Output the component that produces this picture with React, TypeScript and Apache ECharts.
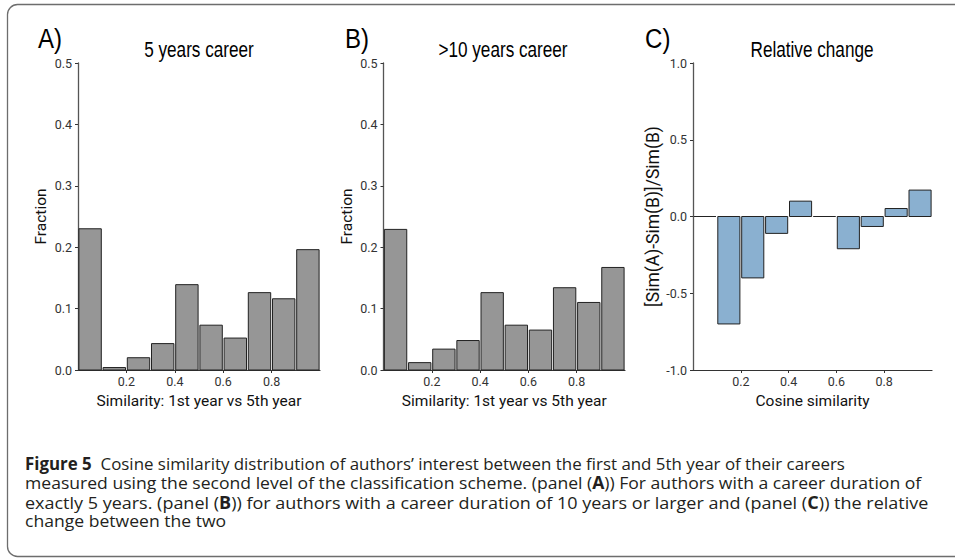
import React, { useEffect, useRef } from 'react';
import * as echarts from 'echarts';

const binEdges = [0, 0.1, 0.2, 0.3, 0.4, 0.5, 0.6, 0.7, 0.8, 0.9, 1.0];
const fractionA = [0.230, 0.004, 0.020, 0.043, 0.139, 0.073, 0.052, 0.126, 0.116, 0.196];
const fractionB = [0.229, 0.012, 0.034, 0.048, 0.126, 0.073, 0.065, 0.134, 0.110, 0.167];
const relChange = [0.0, -0.70, -0.40, -0.11, 0.10, 0.0, -0.21, -0.065, 0.052, 0.172];
const xTickValues = [0.2, 0.4, 0.6, 0.8];
const panelLabels = ['A)', 'B)', 'C)'];
const panelTitles = ['5 years career', '>10 years career', 'Relative change'];
const xAxisNames = ['Similarity: 1st year vs 5th year', 'Similarity: 1st year vs 5th year', 'Cosine similarity'];
const yAxisNames = ['Fraction', 'Fraction', '[Sim(A)-Sim(B)]/Sim(B)'];
const captionLines = [
  '{b|Figure 5}  Cosine similarity distribution of authors\u2019 interest between the first and 5th year of their careers',
  'measured using the second level of the classification scheme. (panel ({b|A})) For authors with a career duration of',
  'exactly 5 years. (panel ({b|B})) for authors with a career duration of 10 years or larger and (panel ({b|C})) the relative',
  'change between the two',
];

const AX_FONT = "Roboto, 'Liberation Sans', sans-serif";
const TITLE_FONT = "'Liberation Sans', Arial, sans-serif";
const CAP_FONT = "'Open Sans', 'Noto Sans', sans-serif";

const grids = [
  { left: 78, top: 63, width: 242, height: 307 },
  { left: 383.5, top: 63, width: 241.5, height: 307 },
  { left: 693, top: 63, width: 239, height: 307 },
];
const panelX = [38, 345, 645];
const titleX = [199, 503, 812];
const yNameGaps = [29, 29, 31];
const yNameSizes = [15.5, 15.5, 17.5];
const captionYs = [463, 482.5, 502, 521];
const captionScaleX = [1.0, 1.04, 1.065, 1.04];

export default function App() {
  const ref = useRef<HTMLDivElement>(null);
  useEffect(() => {
    document.body.style.margin = '0';
    const chart = echarts.init(ref.current!, null, { renderer: 'svg' });
    const seriesData = [fractionA, fractionB, relChange];
    const fills = ['#969696', '#969696', '#8AB0D0'];

    const xAxes = grids.map((_, i) => ({
      type: 'value',
      gridIndex: i,
      min: 0,
      max: 1,
      interval: 0.2,
      splitLine: { show: false },
      axisLine: { show: true, onZero: false, lineStyle: { color: '#333', width: 1.2 } },
      axisTick: { show: true, length: 3, customValues: xTickValues, lineStyle: { color: '#333' } },
      axisLabel: {
        customValues: xTickValues,
        fontSize: 12.5,
        color: '#333',
        margin: 5,
        fontFamily: AX_FONT,
        formatter: (v: number) => v.toFixed(1),
      },
      name: xAxisNames[i],
      nameLocation: 'middle',
      nameGap: 21,
      nameTextStyle: { fontSize: 15.5, color: '#111', fontFamily: AX_FONT },
    }));

    const yAxes = grids.map((_, i) => ({
      type: 'value',
      gridIndex: i,
      min: i === 2 ? -1 : 0,
      max: i === 2 ? 1 : 0.5,
      interval: i === 2 ? 0.5 : 0.1,
      splitLine: { show: false },
      axisLine: { show: true, onZero: false, lineStyle: { color: '#555', width: 1.3 } },
      axisTick: { show: true, length: 3, lineStyle: { color: '#333' } },
      axisLabel: {
        fontSize: 12.5,
        color: '#333',
        margin: 6,
        fontFamily: AX_FONT,
        formatter: (v: number) => v.toFixed(1),
      },
      name: yAxisNames[i],
      nameLocation: 'middle',
      nameGap: yNameGaps[i],
      nameTextStyle: { fontSize: yNameSizes[i], color: '#111', fontFamily: AX_FONT },
    }));

    const series = seriesData.map((vals, i) => ({
      type: 'custom',
      xAxisIndex: i,
      yAxisIndex: i,
      data: vals.map((v, k) => [binEdges[k], binEdges[k + 1], v]),
      encode: { x: [0, 1], y: 2 },
      renderItem: (params: any, api: any) => {
        const x0 = api.value(0);
        const x1 = api.value(1);
        const v = api.value(2);
        const p0 = api.coord([x0, 0]);
        const p1 = api.coord([x1, v]);
        const left = p0[0] + 0.9;
        const right = p1[0] - 0.9;
        const top = Math.min(p0[1], p1[1]);
        const h = Math.abs(p1[1] - p0[1]);
        return {
          type: 'rect',
          shape: { x: left, y: top, width: right - left, height: h },
          style: { fill: fills[i], stroke: '#222', lineWidth: 1 },
        };
      },
    }));

    const graphics: any[] = [
      {
        type: 'rect',
        shape: { x: 7.5, y: 4.5, width: 990, height: 552, r: 10 },
        style: { fill: 'none', stroke: '#6d6d6d', lineWidth: 1.3 },
        silent: true,
      },
    ];
    panelLabels.forEach((t, i) => {
      graphics.push({
        type: 'text',
        x: panelX[i],
        y: 38,
        scaleX: 0.86,
        style: { text: t, font: `28px ${TITLE_FONT}`, fill: '#000', verticalAlign: 'middle', align: 'left' },
      });
      graphics.push({
        type: 'text',
        x: titleX[i],
        y: 49,
        scaleX: 0.78,
        style: { text: panelTitles[i], font: `22px ${TITLE_FONT}`, fill: '#000', verticalAlign: 'middle', align: 'center' },
      });
    });
    captionLines.forEach((t, i) => {
      graphics.push({
        type: 'text',
        x: 25,
        y: captionYs[i],
        scaleX: captionScaleX[i],
        style: {
          text: t,
          fontFamily: CAP_FONT,
          fontSize: 16.9,
          lineHeight: 19,
          fill: '#231f20',
          verticalAlign: 'middle',
          align: 'left',
          rich: {
            b: { fontFamily: CAP_FONT, fontSize: 16.9, lineHeight: 19, fontWeight: 'bold', fill: '#231f20' },
          },
        },
      });
    });

    chart.setOption({
      animation: false,
      backgroundColor: '#fff',
      grid: grids.map((g) => ({ ...g, containLabel: false })),
      xAxis: xAxes,
      yAxis: yAxes,
      series,
      graphic: graphics,
    } as any);
    return () => chart.dispose();
  }, []);
  return <div ref={ref} style={{ width: 955, height: 559 }} />;
}
